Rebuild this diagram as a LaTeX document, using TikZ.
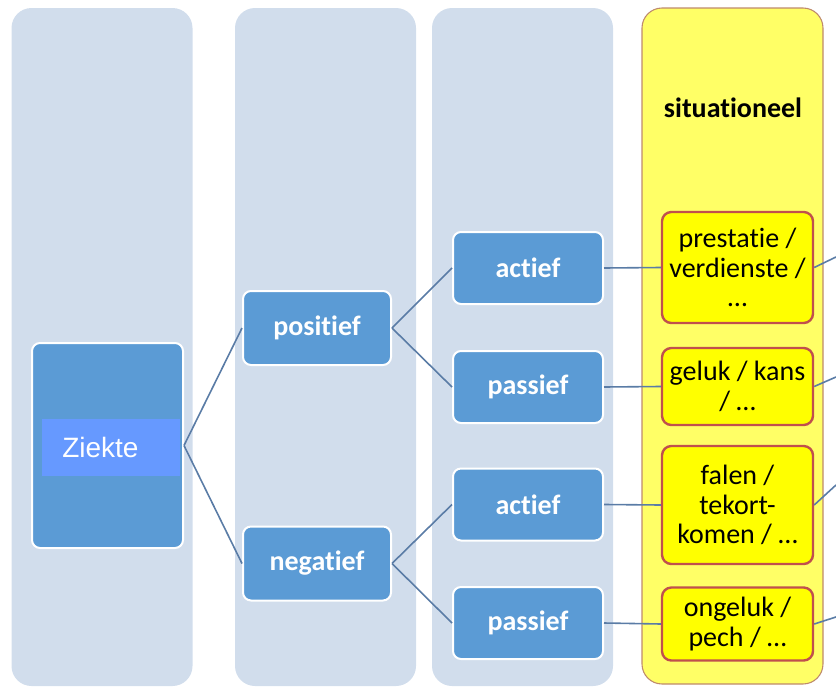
\documentclass[tikz,border=0pt]{standalone}
\usepackage{fontspec}
\setmainfont{Carlito}[RawFeature=-liga]
\newfontfamily\arialf{Liberation Sans}
\definecolor{colbg}{HTML}{D1DDEC}
\definecolor{ycol}{HTML}{FFFF66}
\definecolor{ycolborder}{HTML}{BE8A6C}
\definecolor{yboxfill}{HTML}{FFFF00}
\definecolor{yboxborder}{HTML}{C0504D}
\definecolor{bbox}{HTML}{5B9BD5}
\definecolor{zlabel}{HTML}{6699FF}
\definecolor{conn}{HTML}{5A7CA6}
\tikzset{
  column/.style={rectangle, rounded corners=15pt, fill=colbg, draw=none,
    minimum width=135.75pt, minimum height=508.5pt, inner sep=0pt},
  ycolumn/.style={rectangle, rounded corners=15pt, fill=ycol, draw=ycolborder, line width=0.8pt,
    minimum width=135.75pt, minimum height=507pt, inner sep=0pt},
  bluebox/.style={rectangle, rounded corners=6pt, fill=bbox, draw=white, line width=1.5pt,
    text=white, font=\fontsize{21}{24}\selectfont\bfseries, inner sep=0pt,
    minimum width=112.5pt, minimum height=54pt},
  ybox/.style={rectangle, rounded corners=7pt, fill=yboxfill, draw=yboxborder, line width=1.8pt,
    text=black, font=\fontsize{21}{22.2}\selectfont, align=center, inner sep=0pt,
    minimum width=113.25pt},
  link/.style={draw=conn, line width=1.2pt},
}
\begin{document}
\begin{tikzpicture}[x=0.75pt,y=-0.75pt]
\useasboundingbox (0,0) rectangle (836,689);
% columns
\node[column] (col1) at (102,347) {};
\node[column] (col2) at (325.5,347) {};
\node[column] (col3) at (522.5,347) {};
\node[ycolumn] (col4) at (732.5,346) {};
\node[font=\fontsize{21}{24}\selectfont\bfseries, text=black] (title) at (733,108) {situationeel};
% root
\node[rectangle, rounded corners=6pt, fill=bbox, draw=white, line width=1.5pt,
  minimum width=113.25pt, minimum height=153.75pt, inner sep=0pt] (ziekte) at (107.5,445.5) {};
\node[rectangle, fill=zlabel, inner xsep=0pt, inner ysep=0pt, minimum height=42.75pt,
  text width=103.5pt, align=left, text=white, font=\arialf\fontsize{21}{24}\selectfont,
  anchor=west] (zlab) at (42,447.5) {\hspace*{15pt}Ziekte};
% level 2
\node[bluebox, minimum width=111pt, minimum height=55.5pt] (pos) at (317,328) {positief};
\node[bluebox, minimum width=111pt, minimum height=55.5pt] (neg) at (317,563.5) {negatief};
% level 3
\node[bluebox] (a1) at (528,268) {actief};
\node[bluebox] (p1) at (528,387) {passief};
\node[bluebox] (a2) at (528,504.5) {actief};
\node[bluebox] (p2) at (528,623) {passief};
% level 4
\node[ybox, minimum height=83.25pt] (y1) at (737.5,267.5) {prestatie /\\verdienste /\\…};
\node[ybox, minimum height=57.75pt] (y2) at (737.5,386.5) {geluk / kans\\/ …};
\node[ybox, minimum height=88.5pt] (y3) at (737.5,505) {falen /\\tekort-\\komen / …};
\node[ybox, minimum height=54.75pt] (y4) at (737.5,624) {ongeluk /\\pech / …};
% free ends
\coordinate (e1) at (836,257);
\coordinate (e2) at (836,377);
\coordinate (e3) at (836,485);
\coordinate (e4) at (836,617);
% connectors
\draw[link] (ziekte.east) -- (pos.west);
\draw[link] (ziekte.east) -- (neg.west);
\draw[link] (pos.east) -- (a1.west);
\draw[link] (pos.east) -- (p1.west);
\draw[link] (neg.east) -- (a2.west);
\draw[link] (neg.east) -- (p2.west);
\draw[link] (a1.east) -- (y1.west);
\draw[link] (p1.east) -- (y2.west);
\draw[link] (a2.east) -- (y3.west);
\draw[link] (p2.east) -- (y4.west);
\draw[link] (y1.east) -- (e1);
\draw[link] (y2.east) -- (e2);
\draw[link] (y3.east) -- (e3);
\draw[link] (y4.east) -- (e4);
\end{tikzpicture}
\end{document}
